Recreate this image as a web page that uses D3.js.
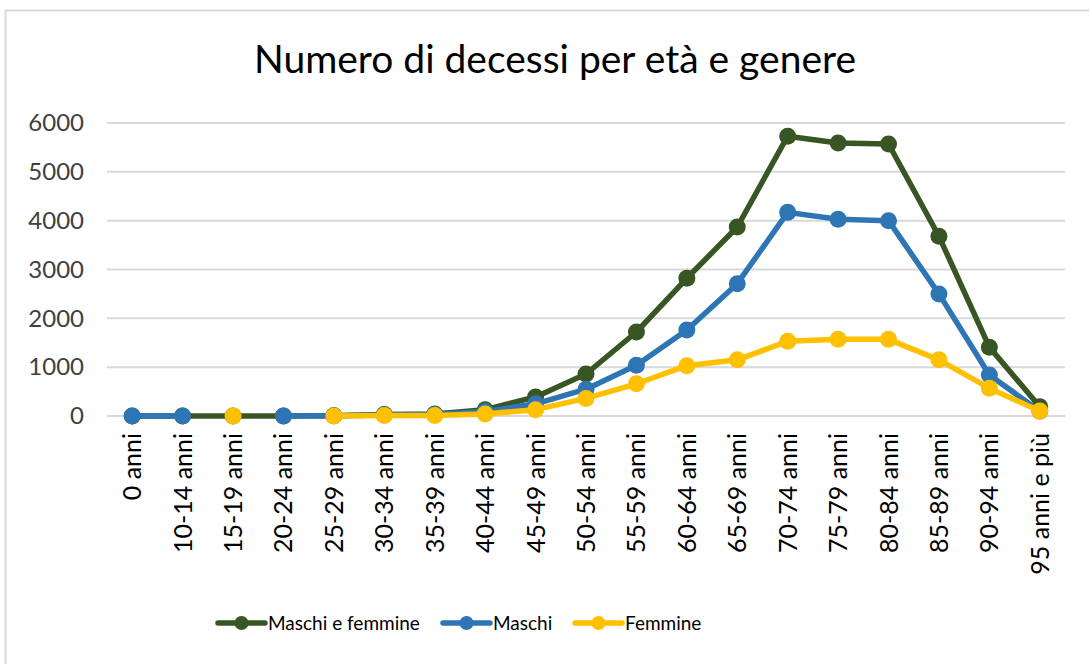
<!DOCTYPE html>
<html>
<head>
<meta charset="utf-8">
<script src="https://cdn.jsdelivr.net/npm/d3@7"></script>
<style>
  body { margin: 0; background: #fff; }
  svg { display: block; font-family: Lato, "Open Sans", sans-serif; }
</style>
</head>
<body>
<svg id="chart" width="1089" height="664"></svg>
<script>
var categories = ["0 anni", "10-14 anni", "15-19 anni", "20-24 anni", "25-29 anni", "30-34 anni",
    "35-39 anni", "40-44 anni", "45-49 anni", "50-54 anni", "55-59 anni", "60-64 anni",
    "65-69 anni", "70-74 anni", "75-79 anni", "80-84 anni", "85-89 anni", "90-94 anni", "95 anni e più"];

// null = no value in the source (drawn as a gap)
var totale  = [0, 0, 0, 0, 5, 30, 40, 130, 390, 860, 1720, 2820, 3870, 5730, 5590, 5570, 3680, 1410, 190];
var maschi  = [0, 0, null, 0, 3, 20, 30, 90, 250, 550, 1040, 1760, 2710, 4170, 4030, 4000, 2500, 840, 100];
var femmine = [null, null, 0, null, 2, 10, 10, 40, 130, 360, 660, 1030, 1150, 1530, 1570, 1570, 1150, 570, 100];

var yTicks = [0, 1000, 2000, 3000, 4000, 5000, 6000];

var series = [
    { name: "Maschi e femmine", values: totale, color: "#375623" },
    { name: "Maschi", values: maschi, color: "#2e75b6" },
    { name: "Femmine", values: femmine, color: "#ffc000" }
];

var svg = d3.select("#chart");

// outer chart border
svg.append("rect")
    .attr("x", 5.5).attr("y", 10.5)
    .attr("width", 1100).attr("height", 700)
    .attr("fill", "#fff")
    .attr("stroke", "#d9d9d9")
    .attr("stroke-width", 2);

svg.append("text")
    .attr("x", 555).attr("y", 73)
    .attr("text-anchor", "middle")
    .attr("font-size", 39)
    .attr("fill", "#000")
    .text("Numero di decessi per età e genere");

var x = d3.scaleBand().domain(categories).range([107, 1065]);
var y = d3.scaleLinear().domain([0, 6000]).range([416, 123]);

var cx = function (d, i) { return x(categories[i]) + x.bandwidth() / 2; };

// gridlines
svg.append("g")
    .selectAll("line")
    .data(yTicks)
    .join("line")
    .attr("x1", 107).attr("x2", 1065)
    .attr("y1", function (d) { return y(d); })
    .attr("y2", function (d) { return y(d); })
    .attr("stroke", "#d9d9d9")
    .attr("stroke-width", 2);

// y axis labels
var yAxis = svg.append("g")
    .attr("transform", "translate(84,0)")
    .call(d3.axisLeft(y).tickValues(yTicks).tickFormat(d3.format("d")).tickSize(0).tickPadding(0));
yAxis.select(".domain").remove();
yAxis.selectAll("text")
    .attr("font-family", "Lato, sans-serif")
    .attr("font-size", 24)
    .attr("fill", "#404040");

// x axis labels (rotated)
var xAxis = svg.append("g")
    .attr("transform", "translate(0,416)")
    .call(d3.axisBottom(x).tickSize(0).tickPadding(0));
xAxis.select(".domain").remove();
xAxis.selectAll("text")
    .attr("font-family", "Lato, sans-serif")
    .attr("font-size", 25)
    .attr("fill", "#000")
    .attr("text-anchor", "end")
    .attr("dy", null)
    .attr("y", 0)
    .attr("transform", "translate(9,17) rotate(-90)");

var line = d3.line()
    .defined(function (d) { return d !== null; })
    .x(cx)
    .y(function (d) { return y(d); });

series.forEach(function (s) {
    var g = svg.append("g").attr("class", "series");
    g.append("path")
        .datum(s.values)
        .attr("fill", "none")
        .attr("stroke", s.color)
        .attr("stroke-width", 5.5)
        .attr("stroke-linejoin", "round")
        .attr("d", line);
    g.selectAll("circle")
        .data(s.values.map(function (v, i) { return { v: v, i: i }; })
            .filter(function (d) { return d.v !== null; }))
        .join("circle")
        .attr("cx", function (d) { return cx(d.v, d.i); })
        .attr("cy", function (d) { return y(d.v); })
        .attr("r", 8.5)
        .attr("fill", s.color);
});

// legend
var legendX = [218, 443, 575];
var legend = svg.append("g");
series.forEach(function (s, i) {
    var lg = legend.append("g").attr("transform", "translate(" + legendX[i] + ",623)");
    lg.append("line")
        .attr("x1", 0).attr("x2", 47)
        .attr("stroke", s.color)
        .attr("stroke-width", 5.5)
        .attr("stroke-linecap", "round");
    lg.append("circle").attr("cx", 23.5).attr("r", 7).attr("fill", s.color);
    lg.append("text")
        .attr("x", 50).attr("y", 0)
        .attr("dy", "0.35em")
        .attr("font-size", 19)
        .attr("fill", "#000")
        .text(s.name);
});
</script>
</body>
</html>
